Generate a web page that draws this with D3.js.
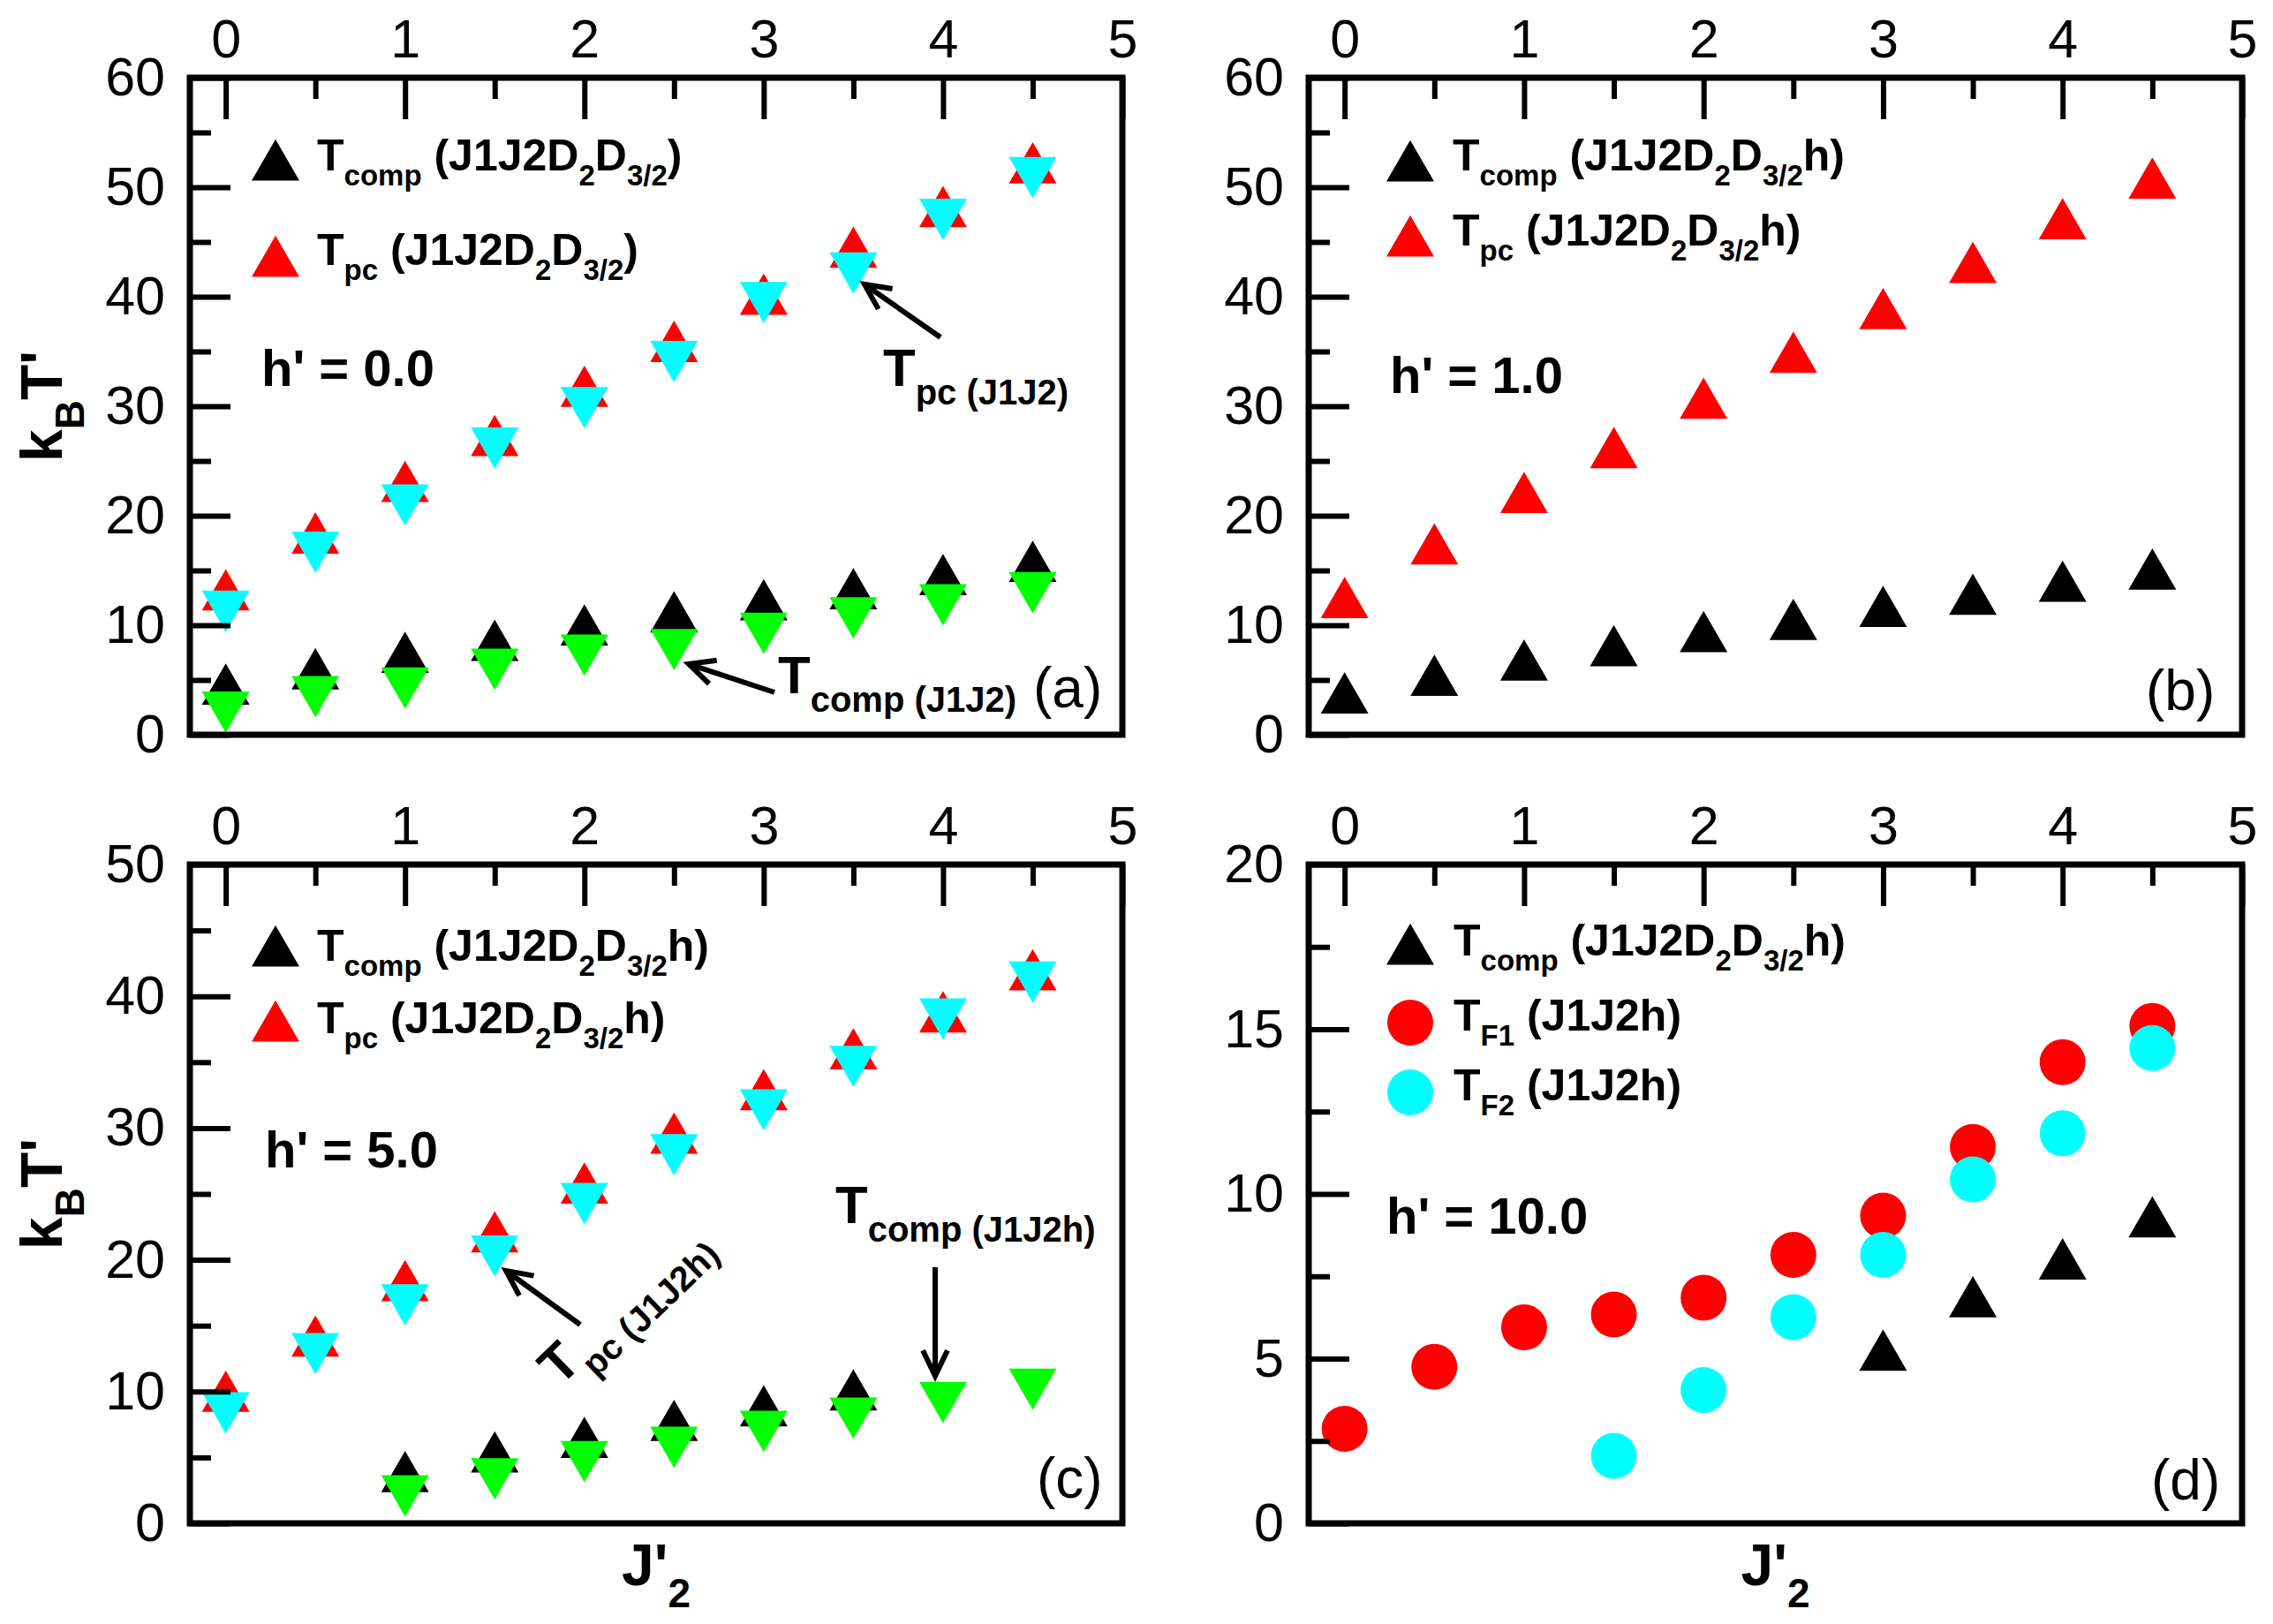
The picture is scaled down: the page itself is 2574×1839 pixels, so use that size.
<!DOCTYPE html>
<html>
<head>
<meta charset="utf-8">
<script src="https://cdn.jsdelivr.net/npm/d3@7"></script>
<style>
html, body { margin: 0; padding: 0; background: #fff; }
svg { display: block; }
text { font-family: "Liberation Sans", Arial, Helvetica, sans-serif; white-space: pre; }
</style>
</head>
<body>
<div id="chart"></div>
<script>
// x values (J'2)
const jAll = [0, 0.5, 1, 1.5, 2, 2.5, 3, 3.5, 4, 4.5];
const jFrom1 = [1, 1.5, 2, 2.5, 3, 3.5, 4, 4.5];
const jFrom1To35 = [1, 1.5, 2, 2.5, 3, 3.5];
const jFrom15 = [1.5, 2, 2.5, 3, 3.5, 4, 4.5];
const jFrom3 = [3, 3.5, 4, 4.5];

// tick values
const xMajor = [0, 1, 2, 3, 4, 5];
const xMinor = [0.5, 1.5, 2.5, 3.5, 4.5];
const y60Major = [0, 10, 20, 30, 40, 50, 60];
const y60Minor = [5, 15, 25, 35, 45, 55];
const y50Major = [0, 10, 20, 30, 40, 50];
const y50Minor = [5, 15, 25, 35, 45];
const y20Major = [0, 5, 10, 15, 20];
const y20Minor = [2.5, 7.5, 12.5, 17.5];

// (a) h' = 0.0
const aTcompD = [4.0, 5.4, 6.9, 8.0, 9.4, 10.6, 11.7, 12.7, 14.0, 15.2];
const aTpcD = [12.6, 17.8, 22.5, 26.7, 31.2, 35.3, 39.6, 43.9, 47.6, 51.6];
const aTpc = [11.9, 17.3, 21.6, 26.8, 30.5, 34.7, 40.1, 42.8, 47.7, 51.5];
const aTcomp = [2.7, 4.1, 4.9, 6.6, 7.9, 8.4, 9.9, 11.3, 12.5, 13.6];

// (b) h' = 1.0
const bTcompD = [3.2, 4.8, 6.2, 7.5, 8.8, 9.9, 11.1, 12.2, 13.4, 14.5];
const bTpcD = [11.9, 16.8, 21.5, 25.6, 30.1, 34.3, 38.3, 42.5, 46.5, 50.2];

// (c) h' = 5.0
const cTcompD = [3.4, 4.9, 6.0, 7.3, 8.4, 9.6];
const cTpcD = [9.5, 13.7, 17.9, 21.6, 25.3, 29.1, 32.4, 35.5, 38.3, 41.5];
const cTpc = [8.9, 13.4, 17.1, 20.8, 24.8, 28.5, 31.9, 35.2, 38.8, 41.6];
const cTcomp = [2.6, 3.9, 5.2, 6.3, 7.5, 8.5, 9.7, 10.7];

// (d) h' = 10.0
const dTcompD = [5.05, 6.67, 7.82, 9.1];
const dTF1 = [2.87, 4.75, 5.95, 6.34, 6.85, 8.15, 9.34, 11.43, 14.0, 15.1];
const dTF2 = [2.05, 4.05, 6.26, 8.15, 10.44, 11.84, 14.43];

const W = 2574, H = 1839;
const BLACK = '#000000', RED = '#ff0000', CYAN = '#00ffff', GREEN = '#00ff00';

const svg = d3.select('#chart').append('svg')
    .attr('width', W)
    .attr('height', H);
svg.append('rect').attr('width', W).attr('height', H).attr('fill', '#fff');

const triSym = d3.symbol().type(d3.symbolTriangle).size(1264)();

// text with subscripts: parts = [[string, isSub], ...]
function rich(parent, x, y, parts, size, subSize, subDy, weight) {
    const t = parent.append('text')
        .attr('x', x)
        .attr('y', y)
        .attr('font-size', size)
        .attr('font-weight', weight || 'bold');
    let shift = 0;
    parts.forEach(([s, sub]) => {
        const want = sub ? subDy : 0;
        t.append('tspan')
            .attr('dy', want - shift)
            .attr('font-size', sub ? subSize : size)
            .text(s);
        shift = want;
    });
    return t;
}

function arrow(parent, x1, y1, x2, y2) {
    const a = Math.atan2(y1 - y2, x1 - x2);
    const len = 32, spread = 0.45;
    parent.append('line')
        .attr('x1', x1).attr('y1', y1).attr('x2', x2).attr('y2', y2)
        .attr('stroke', BLACK).attr('stroke-width', 6);
    parent.append('path')
        .attr('d', `M${x2 + len * Math.cos(a + spread)},${y2 + len * Math.sin(a + spread)}L${x2},${y2}L${x2 + len * Math.cos(a - spread)},${y2 + len * Math.sin(a - spread)}`)
        .attr('fill', 'none').attr('stroke', BLACK).attr('stroke-width', 6)
        .attr('stroke-linejoin', 'miter');
}

function makePanel(xr, yr, yMax) {
    const g = svg.append('g');
    const x = d3.scaleLinear().domain([-0.2, 5]).range(xr);
    const y = d3.scaleLinear().domain([0, yMax]).range([yr[1], yr[0]]);
    const marks = g.append('g');
    const deco = g.append('g');
    const ann = g.append('g').attr('transform', `translate(${xr[0]},${yr[0]})`);
    return { g, x, y, marks, deco, ann, ox: xr[0], oy: yr[0] };
}

function triangles(p, xs, ys, color, down) {
    p.marks.append('g').selectAll('path')
        .data(d3.zip(xs, ys))
        .join('path')
        .attr('d', triSym)
        .attr('transform', d => `translate(${p.x(d[0])},${p.y(d[1])})` + (down ? ' rotate(180)' : ''))
        .attr('fill', color);
}

function dots(p, xs, ys, color) {
    p.marks.append('g').selectAll('circle')
        .data(d3.zip(xs, ys))
        .join('circle')
        .attr('cx', d => p.x(d[0]))
        .attr('cy', d => p.y(d[1]))
        .attr('r', 26)
        .attr('fill', color);
}

function styleAxis(sel) {
    sel.select('.domain').remove();
    sel.attr('font-size', 61)
        .attr('font-family', '"Liberation Sans", Arial, Helvetica, sans-serif');
    sel.selectAll('.tick line').attr('stroke', BLACK).attr('stroke-width', 6);
    sel.selectAll('.tick text').attr('fill', BLACK);
}

function drawAxes(p, yMajor, yMinor) {
    const [x0, x1] = p.x.range();
    const [yb, yt] = p.y.range();
    const d = p.deco;
    d.append('g').attr('transform', `translate(0,${yt})`)
        .call(d3.axisTop(p.x).tickValues(xMinor).tickSize(-24).tickFormat(''))
        .call(styleAxis);
    d.append('g').attr('transform', `translate(0,${yt})`)
        .call(d3.axisTop(p.x).tickValues(xMajor).tickSize(-47).tickPadding(23).tickFormat(d3.format('d')))
        .call(styleAxis);
    d.append('g').attr('transform', `translate(${x0},0)`)
        .call(d3.axisLeft(p.y).tickValues(yMinor).tickSize(-24).tickFormat(''))
        .call(styleAxis);
    d.append('g').attr('transform', `translate(${x0},0)`)
        .call(d3.axisLeft(p.y).tickValues(yMajor).tickSize(-46).tickPadding(28).tickFormat(d3.format('d')))
        .call(styleAxis);
    d.append('rect')
        .attr('x', x0).attr('y', yt)
        .attr('width', x1 - x0).attr('height', yb - yt)
        .attr('fill', 'none').attr('stroke', BLACK).attr('stroke-width', 7);
}

function legendTri(p, cx, cy, color) {
    p.ann.append('path').attr('d', triSym).attr('transform', `translate(${cx},${cy})`).attr('fill', color);
}
function legendDot(p, cx, cy, color) {
    p.ann.append('circle').attr('cx', cx).attr('cy', cy).attr('r', 26).attr('fill', color);
}
function legendText(p, x, y, parts) {
    rich(p.ann, x, y, parts, 50, 33, 17);
}
function note(p, x, y, sub) {
    return rich(p.ann, x, y, [['T'], [sub, 1]], 60, 40, 21);
}

const colLeft = [215, 1271], colRight = [1482, 2539];
const rowTop = [88, 832], rowBot = [979, 1725];

// ---------- (a) ----------
const pa = makePanel(colLeft, rowTop, 60);
triangles(pa, jAll, aTcompD, BLACK, false);
triangles(pa, jAll, aTpcD, RED, false);
triangles(pa, jAll, aTcomp, GREEN, true);
triangles(pa, jAll, aTpc, CYAN, true);
drawAxes(pa, y60Major, y60Minor);
legendTri(pa, 97, 101, BLACK);
legendText(pa, 144, 105, [['T'], ['comp', 1], [' (J1J2D'], ['2', 1], ['D'], ['3/2', 1], [')']]);
legendTri(pa, 97, 210, RED);
legendText(pa, 144, 212, [['T'], ['pc', 1], [' (J1J2D'], ['2', 1], ['D'], ['3/2', 1], [')']]);
rich(pa.ann, 81, 349, [["h' = 0.0"]], 58, 58, 0);
arrow(pa.ann, 850, 294, 764, 234);
note(pa, 785, 349, 'pc (J1J2)');
arrow(pa.ann, 662, 696, 565, 664);
note(pa, 666, 697, 'comp (J1J2)');
rich(pa.ann, 955, 713, [['(a)']], 64, 64, 0, 'normal');

// ---------- (b) ----------
const pb = makePanel(colRight, rowTop, 60);
triangles(pb, jAll, bTcompD, BLACK, false);
triangles(pb, jAll, bTpcD, RED, false);
drawAxes(pb, y60Major, y60Minor);
legendTri(pb, 115, 102, BLACK);
legendText(pb, 163, 105, [['T'], ['comp', 1], [' (J1J2D'], ['2', 1], ['D'], ['3/2', 1], ['h)']]);
legendTri(pb, 115, 187, RED);
legendText(pb, 163, 190, [['T'], ['pc', 1], [' (J1J2D'], ['2', 1], ['D'], ['3/2', 1], ['h)']]);
rich(pb.ann, 92, 357, [["h' = 1.0"]], 58, 58, 0);
rich(pb.ann, 948, 716, [['(b)']], 64, 64, 0, 'normal');

// ---------- (c) ----------
const pc = makePanel(colLeft, rowBot, 50);
triangles(pc, jFrom1To35, cTcompD, BLACK, false);
triangles(pc, jAll, cTpcD, RED, false);
triangles(pc, jFrom1, cTcomp, GREEN, true);
triangles(pc, jAll, cTpc, CYAN, true);
drawAxes(pc, y50Major, y50Minor);
legendTri(pc, 97, 100, BLACK);
legendText(pc, 144, 109, [['T'], ['comp', 1], [' (J1J2D'], ['2', 1], ['D'], ['3/2', 1], ['h)']]);
legendTri(pc, 97, 185, RED);
legendText(pc, 144, 191, [['T'], ['pc', 1], [' (J1J2D'], ['2', 1], ['D'], ['3/2', 1], ['h)']]);
rich(pc.ann, 85, 343, [["h' = 5.0"]], 58, 58, 0);
rich(pc.ann, 959, 717, [['(c)']], 64, 64, 0, 'normal');
note(pc, 731, 406, 'comp (J1J2h)');
arrow(pc.ann, 844, 456, 844, 579);
arrow(pc.ann, 442, 521, 358, 460);
note(pc, 0, 0, 'pc (J1J2h)')
    .attr('transform', 'translate(419,592) rotate(-44)');

// ---------- (d) ----------
const pd = makePanel(colRight, rowBot, 20);
dots(pd, jAll, dTF1, RED);
dots(pd, jFrom15, dTF2, CYAN);
triangles(pd, jFrom3, dTcompD, BLACK, false);
drawAxes(pd, y20Major, y20Minor);
legendTri(pd, 115, 98, BLACK);
legendText(pd, 164, 103, [['T'], ['comp', 1], [' (J1J2D'], ['2', 1], ['D'], ['3/2', 1], ['h)']]);
legendDot(pd, 115, 179, RED);
legendText(pd, 164, 188, [['T'], ['F1', 1], [' (J1J2h)']]);
legendDot(pd, 115, 258, CYAN);
legendText(pd, 164, 267, [['T'], ['F2', 1], [' (J1J2h)']]);
rich(pd.ann, 88, 418, [["h' = 10.0"]], 58, 58, 0);
rich(pd.ann, 954, 719, [['(d)']], 64, 64, 0, 'normal');

// ---------- axis titles ----------
function yTitle(cy) {
    rich(svg, 0, 0, [['k'], ['B', 1], ["T'"]], 66, 46, 25)
        .attr('text-anchor', 'middle')
        .attr('transform', `translate(70,${cy}) rotate(-90)`);
}
yTitle((rowTop[0] + rowTop[1]) / 2);
yTitle((rowBot[0] + rowBot[1]) / 2);

function xTitle(cx) {
    rich(svg, cx, 1795, [["J'"], ['2', 1]], 66, 46, 25).attr('text-anchor', 'middle');
}
xTitle((colLeft[0] + colLeft[1]) / 2);
xTitle((colRight[0] + colRight[1]) / 2);
</script>
</body>
</html>
